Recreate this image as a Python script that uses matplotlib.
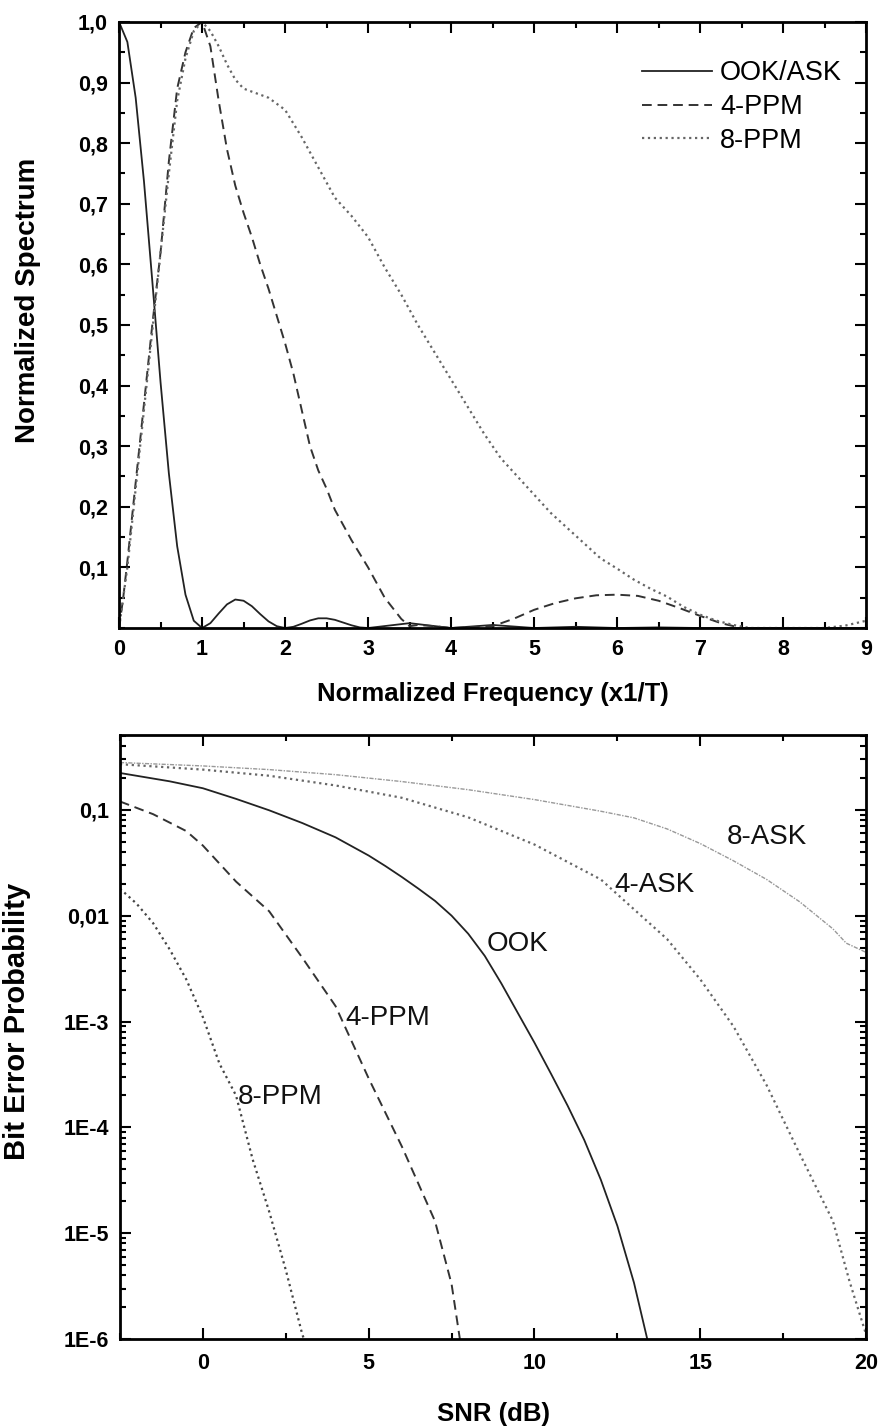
import matplotlib
matplotlib.use("Agg")
import matplotlib.pyplot as plt
from matplotlib.ticker import MultipleLocator, FixedLocator, LogLocator, NullFormatter

plt.rcParams['font.family'] = ['Liberation Sans', 'DejaVu Sans']

# ---- spectrum data ----
f_ook = [0.0, 0.1, 0.2, 0.3, 0.4, 0.5, 0.6, 0.7, 0.8, 0.9, 1.0, 1.1, 1.2, 1.3, 1.4, 1.5,
         1.6, 1.7, 1.8, 1.9, 2.0, 2.1, 2.2, 2.3, 2.4, 2.5, 2.6, 2.7, 2.8, 2.9, 3.0,
         3.25, 3.5, 3.75, 4.0, 4.25, 4.5, 4.75, 5.0, 5.5, 6.0, 6.5, 7.0, 8.0, 9.0]
s_ook = [1.0, 0.967, 0.875, 0.737, 0.573, 0.405, 0.255, 0.135, 0.055, 0.012, 0.0, 0.008,
         0.024, 0.039, 0.047, 0.045, 0.036, 0.023, 0.011, 0.003, 0.0, 0.002, 0.007, 0.0125,
         0.016, 0.016, 0.0135, 0.009, 0.0045, 0.001, 0.0, 0.004, 0.008, 0.004, 0.0, 0.0025,
         0.005, 0.0025, 0.0, 0.002, 0.0, 0.001, 0.0, 0.0, 0.0]

f_4ppm = [0.0, 0.05, 0.1, 0.2, 0.3, 0.4, 0.5, 0.6, 0.7, 0.8, 0.9, 1.0, 1.1, 1.2, 1.3,
          1.4, 1.5, 1.6, 1.7, 1.8, 1.9, 2.0, 2.1, 2.2, 2.3, 2.4, 2.5, 2.6, 2.8, 3.0,
          3.2, 3.4, 3.5, 3.6, 3.8, 4.0, 4.5, 4.75, 5.0, 5.25, 5.5, 5.75, 6.0, 6.25,
          6.5, 6.75, 7.0, 7.25, 7.5, 8.0, 8.5, 9.0]
s_4ppm = [0.0, 0.05, 0.11, 0.24, 0.37, 0.50, 0.62, 0.77, 0.89, 0.95, 0.99, 1.0, 0.96,
          0.87, 0.79, 0.73, 0.685, 0.645, 0.60, 0.56, 0.515, 0.47, 0.42, 0.36, 0.30,
          0.26, 0.23, 0.195, 0.145, 0.10, 0.05, 0.015, 0.003, 0.005, 0.003, 0.0, 0.003,
          0.015, 0.03, 0.041, 0.049, 0.054, 0.055, 0.053, 0.045, 0.033, 0.02, 0.008,
          0.0, 0.0, 0.0, 0.0]

f_8ppm = [0.0, 0.1, 0.2, 0.3, 0.4, 0.5, 0.6, 0.7, 0.8, 0.9, 1.0, 1.1, 1.2, 1.3, 1.4,
          1.5, 1.6, 1.8, 2.0, 2.2, 2.4, 2.6, 2.8, 3.0, 3.2, 3.4, 3.6, 3.8, 4.0, 4.2,
          4.4, 4.6, 4.8, 5.0, 5.2, 5.4, 5.6, 5.8, 6.0, 6.2, 6.4, 6.6, 6.8, 7.0, 7.2,
          7.4, 7.6, 8.0, 8.5, 8.75, 9.0]
s_8ppm = [0.0, 0.10, 0.23, 0.36, 0.49, 0.62, 0.75, 0.87, 0.94, 0.985, 1.0, 0.985, 0.96,
          0.93, 0.905, 0.89, 0.885, 0.875, 0.855, 0.81, 0.76, 0.71, 0.68, 0.645, 0.595,
          0.55, 0.50, 0.455, 0.41, 0.365, 0.32, 0.28, 0.25, 0.22, 0.19, 0.165, 0.14,
          0.115, 0.098, 0.08, 0.065, 0.052, 0.035, 0.022, 0.012, 0.005, 0.0, 0.0, 0.0,
          0.004, 0.012]

spec_yticks = [0.1, 0.2, 0.3, 0.4, 0.5, 0.6, 0.7, 0.8, 0.9, 1.0]
spec_ylabels = ['0,1', '0,2', '0,3', '0,4', '0,5', '0,6', '0,7', '0,8', '0,9', '1,0']

# ---- BER data ----
snr_ook = [-2.5, -1, 0, 1, 2, 3, 4, 5, 5.5, 6, 6.5, 7, 7.5, 8, 8.5, 9, 9.5, 10, 10.5,
           11, 11.5, 12, 12.5, 13, 13.4]
ber_ook = [0.223, 0.186, 0.160, 0.127, 0.099, 0.075, 0.055, 0.037, 0.0295, 0.0232,
           0.018, 0.0138, 0.010, 0.00676, 0.00417, 0.00229, 0.0012, 6.3e-4, 3.2e-4,
           1.6e-4, 7.6e-5, 3.2e-5, 1.17e-5, 3.4e-6, 1e-6]

snr_4ppm = [-2.5, -1.5, -0.5, 0, 1, 2, 3, 4, 5, 6, 7, 7.5, 7.75]
ber_4ppm = [0.12, 0.091, 0.063, 0.046, 0.021, 0.011, 0.004, 0.0014, 2.9e-4, 6.6e-5,
            1.3e-5, 3.3e-6, 1e-6]

snr_8ppm = [-2.5, -2, -1.5, -1, -0.5, 0, 0.5, 1, 1.5, 2, 2.5, 3, 3.05]
ber_8ppm = [0.018, 0.013, 0.0085, 0.0048, 0.0025, 0.0011, 4e-4, 2e-4, 5e-5, 1.6e-5,
            4.5e-6, 1.1e-6, 1e-6]

snr_4ask = [-2.5, 0, 2, 4, 6, 8, 10, 12, 14, 15, 16, 17, 18, 19, 19.5, 20]
ber_4ask = [0.27, 0.24, 0.21, 0.17, 0.13, 0.085, 0.047, 0.022, 0.0060, 0.0025, 9e-4,
            2.5e-4, 5.6e-5, 1.3e-5, 3.5e-6, 1.1e-6]

snr_8ask = [-2.5, 0, 2, 4, 6, 8, 10, 12, 13, 14, 15, 16, 17, 18, 19, 19.4, 20]
ber_8ask = [0.28, 0.26, 0.24, 0.215, 0.185, 0.155, 0.125, 0.097, 0.084, 0.066, 0.048,
            0.033, 0.022, 0.0135, 0.0075, 0.0055, 0.0045]

ber_yticks = [0.1, 0.01, 1e-3, 1e-4, 1e-5, 1e-6]
ber_ylabels = ['0,1', '0,01', '1E-3', '1E-4', '1E-5', '1E-6']

# curve labels: text, snr, ber
curve_labels = [('8-ASK', 15.8, 0.0555),
                ('4-ASK', 12.4, 0.0195),
                ('OOK', 8.55, 0.0054),
                ('4-PPM', 4.3, 0.00107),
                ('8-PPM', 1.05, 1.95e-4)]

fig = plt.figure(figsize=(8.82, 14.26), dpi=100)

# top: spectrum
ax1 = fig.add_axes([0.135, 0.5596, 0.847, 0.425])
ax1.plot(f_ook, s_ook, '-', color='#222222', lw=1.3, label='OOK/ASK')
ax1.plot(f_4ppm, s_4ppm, '--', color='#333333', lw=1.4, dashes=(5, 3), label='4-PPM')
ax1.plot(f_8ppm, s_8ppm, ':', color='#666666', lw=1.6, label='8-PPM')
ax1.set_xlim(0, 9)
ax1.set_ylim(0, 1.0)
ax1.xaxis.set_major_locator(MultipleLocator(1))
ax1.xaxis.set_minor_locator(MultipleLocator(0.5))
ax1.yaxis.set_major_locator(FixedLocator(spec_yticks))
ax1.set_yticklabels(spec_ylabels)
ax1.yaxis.set_minor_locator(MultipleLocator(0.05))
ax1.set_xlabel('Normalized Frequency (x1/T)', fontsize=18.5, fontweight='bold', labelpad=16)
ax1.set_ylabel('Normalized Spectrum', fontsize=20, fontweight='bold')
ax1.yaxis.set_label_coords(-0.104, 0.54)
ax1.legend(loc='upper right', bbox_to_anchor=(0.968, 0.9365), frameon=False,
           fontsize=19.5, handlelength=2.6, handletextpad=0.3, labelspacing=0.28,
           borderpad=0, borderaxespad=0)

# bottom: BER
ax2 = fig.add_axes([0.136, 0.061, 0.846, 0.4236])
ax2.semilogy(snr_ook, ber_ook, '-', color='#222222', lw=1.3)
ax2.semilogy(snr_4ppm, ber_4ppm, '--', color='#333333', lw=1.4, dashes=(5, 3))
ax2.semilogy(snr_8ppm, ber_8ppm, ':', color='#444444', lw=1.6)
ax2.semilogy(snr_4ask, ber_4ask, ':', color='#666666', lw=1.6)
ax2.semilogy(snr_8ask, ber_8ask, '-.', color='#999999', lw=1.0, dashes=(3, 1, 1, 1))
ax2.set_xlim(-2.5, 20)
ax2.set_ylim(1e-6, 0.51)
ax2.xaxis.set_major_locator(MultipleLocator(5))
ax2.xaxis.set_minor_locator(MultipleLocator(2.5))
ax2.set_yticks(ber_yticks)
ax2.set_yticklabels(ber_ylabels)
ax2.yaxis.set_minor_locator(LogLocator(base=10, subs=[2, 3, 4, 5, 6, 7, 8, 9], numticks=20))
ax2.yaxis.set_minor_formatter(NullFormatter())
ax2.set_xlabel('SNR (dB)', fontsize=18.5, fontweight='bold', labelpad=20)
ax2.set_ylabel('Bit Error Probability', fontsize=21, fontweight='bold')
ax2.yaxis.set_label_coords(-0.119, 0.526)

for txt, xs, yb in curve_labels:
    ax2.text(xs, yb, txt, fontsize=20, ha='left', va='center', color='#111111')

for ax in (ax1, ax2):
    ax.tick_params(which='both', direction='in', top=True, right=True, width=1.5)
    ax.tick_params(which='major', length=8, labelsize=15.5, pad=8)
    ax.tick_params(which='minor', length=4)
    for lab in ax.get_xticklabels() + ax.get_yticklabels():
        lab.set_fontweight('bold')
    for sp in ax.spines.values():
        sp.set_linewidth(2)
ax2.tick_params(axis='x', which='major', pad=10)

fig.savefig('out.png', dpi=100)
